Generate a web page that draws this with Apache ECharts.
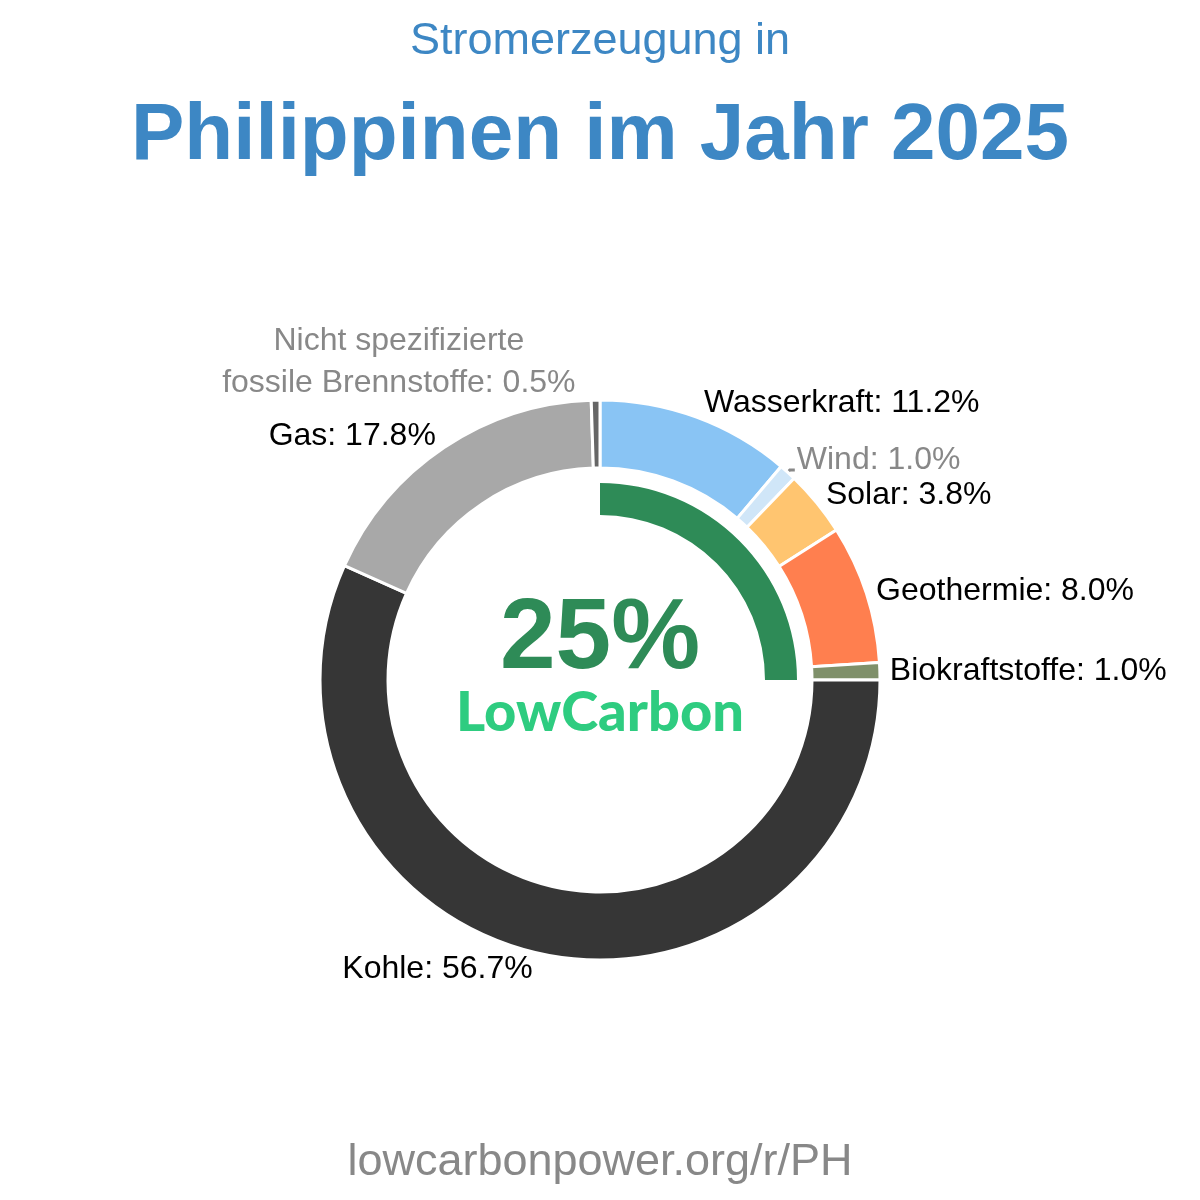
<!DOCTYPE html>
<html><head><meta charset="utf-8">
<script src="https://cdn.jsdelivr.net/npm/echarts@6/dist/echarts.min.js"></script>
<style>html,body{margin:0;padding:0;background:#fff}#c{width:1200px;height:1200px}</style>
</head><body><div id="c"></div>
<script>
const categories = ['Wasserkraft','Wind','Solar','Geothermie','Biokraftstoffe','Kohle','Gas','Nicht spezifizierte\nfossile Brennstoffe'];
const values = [11.2, 1.0, 3.8, 8.0, 1.0, 56.7, 17.8, 0.5];
const colors = ['#89c4f4','#d0e6f8','#ffc570','#ff7f4f','#7f906a','#363636','#a8a8a8','#666666'];
const labelColors = ['#000','#888','#000','#000','#000','#000','#000','#888'];
const lowCarbonShare = 25;
const titleTop = 'Stromerzeugung in';
const titleMain = 'Philippinen im Jahr 2025';
const footer = 'lowcarbonpower.org/r/PH';

const chart = echarts.init(document.getElementById('c'));
const font = '"Liberation Sans", Arial, sans-serif';
const CY = 680, R = 280;
chart.setOption({
  animation: false,
  title: [
    {text: titleTop, left: 'center', top: 14, textStyle: {fontFamily: font, fontSize: 45, fontWeight: 'normal', color: '#3d87c4'}},
    {text: titleMain, left: 'center', top: 92, textStyle: {fontFamily: font, fontSize: 80, fontWeight: 'bold', color: '#3d87c4'}},
    {text: footer, left: 'center', top: 1135, textStyle: {fontFamily: font, fontSize: 45, fontWeight: 'normal', color: '#888'}}
  ],
  graphic: [
    {type: 'text', left: 'center', top: 590, style: {text: lowCarbonShare + '%', font: 'bold 100px ' + font, fill: '#2e8b57'}},
    {type: 'text', left: 'center', top: 685, style: {text: 'LowCarbon', font: '900 56px Lato, "Open Sans", sans-serif', fill: '#2ecc80'}}
  ],
  series: [
    {
      type: 'pie', silent: true, center: [600, CY], radius: [212, R], startAngle: 90, clockwise: true,
      avoidLabelOverlap: false,
      itemStyle: {borderColor: '#fff', borderWidth: 3},
      label: {position: 'outside', fontFamily: font, fontSize: 32, lineHeight: 42, distanceToLabelLine: 2,
        formatter: p => p.name + ': ' + p.value.toFixed(1) + '%'},
      labelLine: {show: false, length: 4, length2: 4},
      labelLayout: p => {
        const cy = p.labelRect.y + p.labelRect.height / 2;
        if (p.dataIndex === 7) {
          return {x: p.labelRect.x + p.labelRect.width / 2 - 14, y: cy - 34, align: 'center', verticalAlign: 'middle', hideOverlap: false};
        }
        const c = Math.max(-1, Math.min(1, (CY - cy) / (R + 4)));
        const extra = p.dataIndex === 1 ? -3 : 0;
        return {dy: -12 * c * Math.abs(c) + extra, dx: p.dataIndex === 5 ? -2 : 0, hideOverlap: false};
      },
      data: categories.map((n, i) => ({
        name: n, value: values[i],
        itemStyle: {color: colors[i]},
        label: {color: labelColors[i]},
        labelLine: i === 1 ? {show: true, length: 3, length2: 5, lineStyle: {color: '#888', width: 3}} : undefined
      }))
    },
    {
      type: 'pie', silent: true, center: [600, CY], radius: [165, 197], startAngle: 90, clockwise: true,
      label: {show: false}, labelLine: {show: false},
      data: [
        {value: lowCarbonShare, itemStyle: {color: '#2e8b57'}},
        {value: 100 - lowCarbonShare, itemStyle: {color: 'rgba(0,0,0,0)'}}
      ]
    }
  ]
});
</script></body></html>
